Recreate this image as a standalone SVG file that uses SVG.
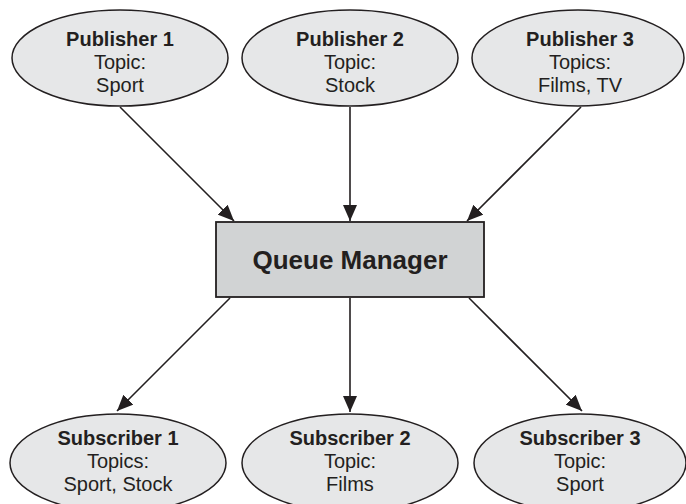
<svg xmlns="http://www.w3.org/2000/svg" width="686" height="504" viewBox="0 0 686 504">
<style>
.node{fill:#e6e7e8;stroke:#231f20;stroke-width:1.5}
.box{fill:#d1d3d4;stroke:#231f20;stroke-width:1.8}
.t{font-family:"Liberation Sans",Arial,sans-serif;font-size:20px;fill:#231f20;text-anchor:middle}
.b{font-weight:bold}
.qm{font-size:26px;font-weight:bold}
.edge{stroke:#231f20;stroke-width:1.6;fill:none;marker-end:url(#ah)}
</style>
<defs>
<marker id="ah" viewBox="0 0 16 14" refX="16" refY="7" markerWidth="16" markerHeight="14" markerUnits="userSpaceOnUse" orient="auto">
<path d="M0,0 L16,7 L0,14 z" fill="#231f20"/>
</marker>
</defs>
<rect width="686" height="504" fill="#ffffff"/>
<g id="connectors">
<line class="edge" x1="120" y1="107" x2="234" y2="221"/>
<line class="edge" x1="350" y1="107" x2="350" y2="221"/>
<line class="edge" x1="581" y1="107" x2="467" y2="221"/>
<line class="edge" x1="230" y1="298" x2="117" y2="411"/>
<line class="edge" x1="350" y1="298" x2="350" y2="412"/>
<line class="edge" x1="469" y1="298" x2="582" y2="411"/>
</g>
<g id="publisher1">
<ellipse class="node" cx="120" cy="58" rx="108" ry="48"/>
<text class="t b" x="120" y="46">Publisher 1</text>
<text class="t" x="120" y="69">Topic:</text>
<text class="t" x="120" y="92">Sport</text>
</g>
<g id="publisher2">
<ellipse class="node" cx="350" cy="58" rx="108" ry="48"/>
<text class="t b" x="350" y="46">Publisher 2</text>
<text class="t" x="350" y="69">Topic:</text>
<text class="t" x="350" y="92">Stock</text>
</g>
<g id="publisher3">
<ellipse class="node" cx="578" cy="58" rx="106" ry="48"/>
<text class="t b" x="580" y="46">Publisher 3</text>
<text class="t" x="580" y="69">Topics:</text>
<text class="t" x="580" y="92">Films, TV</text>
</g>
<g id="queuemanager">
<rect class="box" x="216" y="222" width="268" height="75"/>
<text class="t qm" x="350" y="269">Queue Manager</text>
</g>
<g id="subscriber1">
<ellipse class="node" cx="118" cy="463" rx="108" ry="49"/>
<text class="t b" x="118" y="445">Subscriber 1</text>
<text class="t" x="118" y="468">Topics:</text>
<text class="t" x="118" y="491">Sport, Stock</text>
</g>
<g id="subscriber2">
<ellipse class="node" cx="350" cy="463" rx="108" ry="49"/>
<text class="t b" x="350" y="445">Subscriber 2</text>
<text class="t" x="350" y="468">Topic:</text>
<text class="t" x="350" y="491">Films</text>
</g>
<g id="subscriber3">
<ellipse class="node" cx="580" cy="463" rx="106" ry="49"/>
<text class="t b" x="580" y="445">Subscriber 3</text>
<text class="t" x="580" y="468">Topic:</text>
<text class="t" x="580" y="491">Sport</text>
</g>
</svg>
